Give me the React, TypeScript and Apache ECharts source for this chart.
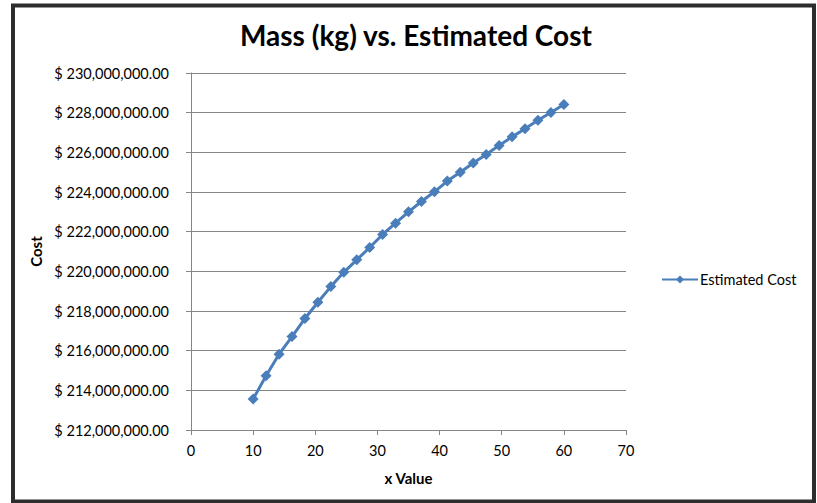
import React, { useEffect, useRef } from "react";
import * as echarts from "echarts";

const xValues = [10, 12.08, 14.17, 16.25, 18.33, 20.42, 22.5, 24.58, 26.67, 28.75, 30.83, 32.92, 35, 37.08, 39.17, 41.25, 43.33, 45.42, 47.5, 49.58, 51.67, 53.75, 55.83, 57.92, 60];
const costValues = [213560000, 214740000, 215820000, 216710000, 217620000, 218440000, 219230000, 219950000, 220580000, 221200000, 221860000, 222430000, 223000000, 223520000, 224010000, 224550000, 225000000, 225460000, 225890000, 226350000, 226780000, 227190000, 227620000, 228010000, 228410000];
const seriesName = "Estimated Cost";
const titleText = "Mass (kg) vs. Estimated Cost";
const xAxisName = "x Value";
const yAxisName = "Cost";

const FONT = "Lato, 'Open Sans', sans-serif";

export default function App() {
  const ref = useRef<HTMLDivElement>(null);
  useEffect(() => {
    if (!ref.current) return;
    const chart = echarts.init(ref.current, null, { renderer: "svg" });
    const data = xValues.map((x, i) => [x, costValues[i]]);
    chart.setOption({
      animation: false,
      backgroundColor: "#ffffff",
      textStyle: { fontFamily: FONT },
      title: {
        text: titleText,
        left: 235,
        top: 16,
        textStyle: { fontFamily: FONT, fontSize: 28, fontWeight: "bold", color: "#000" },
      },
      graphic: [
        {
          type: "rect",
          shape: { x: 13, y: 5.5, width: 801, height: 496 },
          style: { fill: "none", stroke: "#2d2d2d", lineWidth: 4 },
          silent: true,
        },
      ],
      legend: {
        left: 656,
        top: 267,
        itemWidth: 36,
        itemHeight: 10,
        itemGap: 4,
        textStyle: { fontFamily: FONT, fontSize: 14.5, color: "#000", padding: [0, 0, 0, -3] },
        data: [seriesName],
      },
      grid: { left: 191, right: 191, top: 73, bottom: 73, containLabel: false },
      xAxis: {
        type: "value",
        min: 0,
        max: 70,
        interval: 10,
        name: xAxisName,
        nameLocation: "middle",
        nameGap: 40,
        nameTextStyle: { fontFamily: FONT, fontSize: 15, fontWeight: "bold", color: "#000" },
        axisLine: { show: true, lineStyle: { color: "#868686", width: 1 } },
        axisTick: { show: true, length: 5, lineStyle: { color: "#868686" } },
        axisLabel: { margin: 13, fontFamily: FONT, fontSize: 14.5, color: "#000" },
        splitLine: { show: false },
      },
      yAxis: {
        type: "value",
        min: 212000000,
        max: 230000000,
        interval: 2000000,
        name: yAxisName,
        nameLocation: "middle",
        nameGap: 144,
        nameRotate: 90,
        nameTextStyle: { fontFamily: FONT, fontSize: 15, fontWeight: "bold", color: "#000" },
        axisLine: { show: true, lineStyle: { color: "#868686", width: 1 } },
        axisTick: { show: true, length: 5, lineStyle: { color: "#868686" } },
        axisLabel: {
          margin: 22,
          fontFamily: FONT,
          fontSize: 14.5,
          color: "#000",
          formatter: (v: number) =>
            "$ " + v.toLocaleString("en-US", { minimumFractionDigits: 2, maximumFractionDigits: 2 }),
        },
        splitLine: { show: true, lineStyle: { color: "#868686", width: 1 } },
      },
      series: [
        {
          name: seriesName,
          type: "line",
          data,
          symbol: "diamond",
          symbolSize: 11,
          lineStyle: { color: "#4a7ebb", width: 3 },
          itemStyle: { color: "#4a7ebb" },
        },
      ],
    });
    return () => chart.dispose();
  }, []);
  return (
    <div
      ref={ref}
      style={{ position: "absolute", left: 0, top: 0, width: 817, height: 503 }}
    />
  );
}
